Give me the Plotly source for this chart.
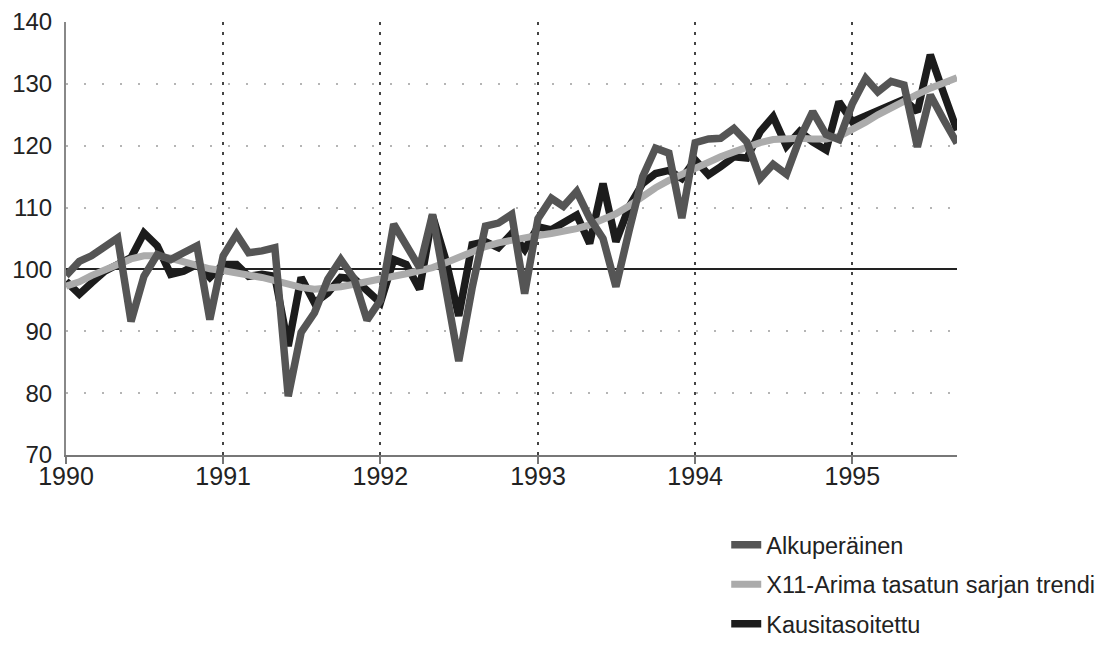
import pandas as pd
import plotly.graph_objects as go

start_month = "1990-01-01"
n_months = 69

alkuperainen = [99.0, 101.3, 102.2, 103.5, 105.1, 91.6, 98.9, 102.4, 101.6, 102.7, 103.8, 91.9,
                102.2, 105.7, 102.7, 103.0, 103.5, 79.5, 89.8, 93.0, 98.4, 101.6, 98.5, 91.8,
                95.0, 107.3, 103.8, 100.3, 108.9, 96.8, 85.2, 97.0, 107.0, 107.5, 108.9, 96.1,
                108.2, 111.5, 110.2, 112.6, 108.3, 105.0, 97.2, 106.4, 115.0, 119.6, 118.8, 108.3,
                120.5, 121.1, 121.2, 122.8, 120.6, 114.7, 117.0, 115.4, 121.2, 125.5, 121.8, 121.0,
                126.8, 130.9, 128.7, 130.4, 129.8, 119.8, 128.2, 124.2, 120.4]

trendi = [97.3, 98.0, 99.0, 100.0, 100.8, 101.7, 102.2, 102.2, 101.8, 101.2, 100.6, 100.1,
          99.8, 99.5, 99.1, 98.7, 98.2, 97.6, 97.1, 96.8, 96.9, 97.2, 97.6, 98.1,
          98.5, 98.9, 99.3, 99.7, 100.3, 101.1, 102.0, 102.9, 103.7, 104.3, 104.8, 105.2,
          105.5, 105.8, 106.1, 106.6, 107.2, 108.0, 109.0, 110.3, 111.8, 113.2, 114.4, 115.4,
          116.4, 117.3, 118.2, 119.0, 119.8, 120.5, 121.0, 121.2, 121.2, 121.1, 121.1, 121.5,
          122.5, 123.8, 125.0, 126.2, 127.3, 128.3, 129.3, 130.2, 131.0]

kausitasoitettu = [98.1, 96.0, 97.8, 99.7, 100.8, 101.9, 105.9, 103.8, 99.2, 99.7, 100.8, 98.7,
                   100.8, 100.8, 98.9, 99.2, 98.9, 87.6, 98.7, 94.6, 96.2, 98.7, 98.5, 96.5,
                   94.6, 101.6, 100.8, 96.8, 108.7, 101.5, 92.5, 104.0, 104.5, 103.5, 105.8, 103.2,
                   106.9, 106.4, 107.4, 108.8, 104.2, 113.9, 104.5, 110.2, 113.9, 115.5, 116.0, 114.7,
                   117.7, 115.3, 116.6, 118.2, 118.0, 122.3, 124.7, 119.9, 122.3, 120.6, 119.3, 127.1,
                   123.9, 124.9, 125.7, 126.8, 127.5, 125.5, 134.7, 128.5, 122.5]

names = ["Alkuperäinen", "X11-Arima tasatun sarjan trendi", "Kausitasoitettu"]
year_ticks = ["1990", "1991", "1992", "1993", "1994", "1995"]
y_ticks = [70, 80, 90, 100, 110, 120, 130, 140]
y_range = [70, 140]
reference_level = 100

dates = pd.date_range(start_month, periods=n_months, freq="MS")

FONT = "Liberation Sans, Arial, sans-serif"

fig = go.Figure()
# invisible helper trace on an overlay axis whose zero sits at the reference level
fig.add_trace(go.Scatter(x=[dates[0]], y=[0], yaxis="y2", mode="lines",
                         showlegend=False, hoverinfo="skip", line=dict(width=0)))
# drawn bottom to top: black, light trend, dark grey original
fig.add_trace(go.Scatter(x=dates, y=kausitasoitettu, mode="lines", name=names[2],
                         legendgroup="c", legendrank=3, line=dict(color="#1c1c1c", width=7.5)))
fig.add_trace(go.Scatter(x=dates, y=trendi, mode="lines", name=names[1],
                         legendgroup="b", legendrank=2, line=dict(color="#ababab", width=7)))
fig.add_trace(go.Scatter(x=dates, y=alkuperainen, mode="lines", name=names[0],
                         legendgroup="a", legendrank=1, line=dict(color="#555555", width=7.5)))

# the page body adds an 8px margin; the figure is made a little larger than the
# window so the legend never forces the plot area to shrink (extra is blank)
fig.update_layout(
    width=1125, height=660,
    margin=dict(l=58, r=176, t=14, b=213),
    paper_bgcolor="white", plot_bgcolor="white",
    font=dict(family=FONT, size=24, color="#222222"),
    showlegend=True,
    legend=dict(x=0.741, y=-0.157, xanchor="left", yanchor="top",
                traceorder="grouped", tracegroupgap=6,
                font=dict(family=FONT, size=23.5, color="#222222"),
                bgcolor="rgba(0,0,0,0)", borderwidth=0, itemwidth=30),
    xaxis=dict(type="date", range=[dates[0], dates[-1]], automargin=False,
               tickvals=[pd.Timestamp(f"{y}-01-01") for y in year_ticks],
               ticktext=year_ticks,
               showgrid=True, gridcolor="#444444", griddash="3px,7px", gridwidth=1.5,
               showline=True, linecolor="#777777", linewidth=2,
               ticks="outside", ticklen=7, tickcolor="#777777", tickwidth=1.5,
               ticklabelstandoff=-9,
               zeroline=False, tickfont=dict(size=25)),
    yaxis=dict(range=y_range, tickvals=y_ticks, automargin=False,
               showgrid=True, gridcolor="#b5b5b5", griddash="2px,16px", gridwidth=1.5,
               showline=True, linecolor="#888888", linewidth=2,
               ticks="", zeroline=False, ticklabelstandoff=7,
               tickfont=dict(size=24)),
    yaxis2=dict(overlaying="y", range=[y_range[0] - reference_level, y_range[1] - reference_level],
                showgrid=False, showticklabels=False, ticks="", showline=False,
                zeroline=True, zerolinecolor="#222222", zerolinewidth=1.5,
                automargin=False),
)

fig.write_html("out.html")
